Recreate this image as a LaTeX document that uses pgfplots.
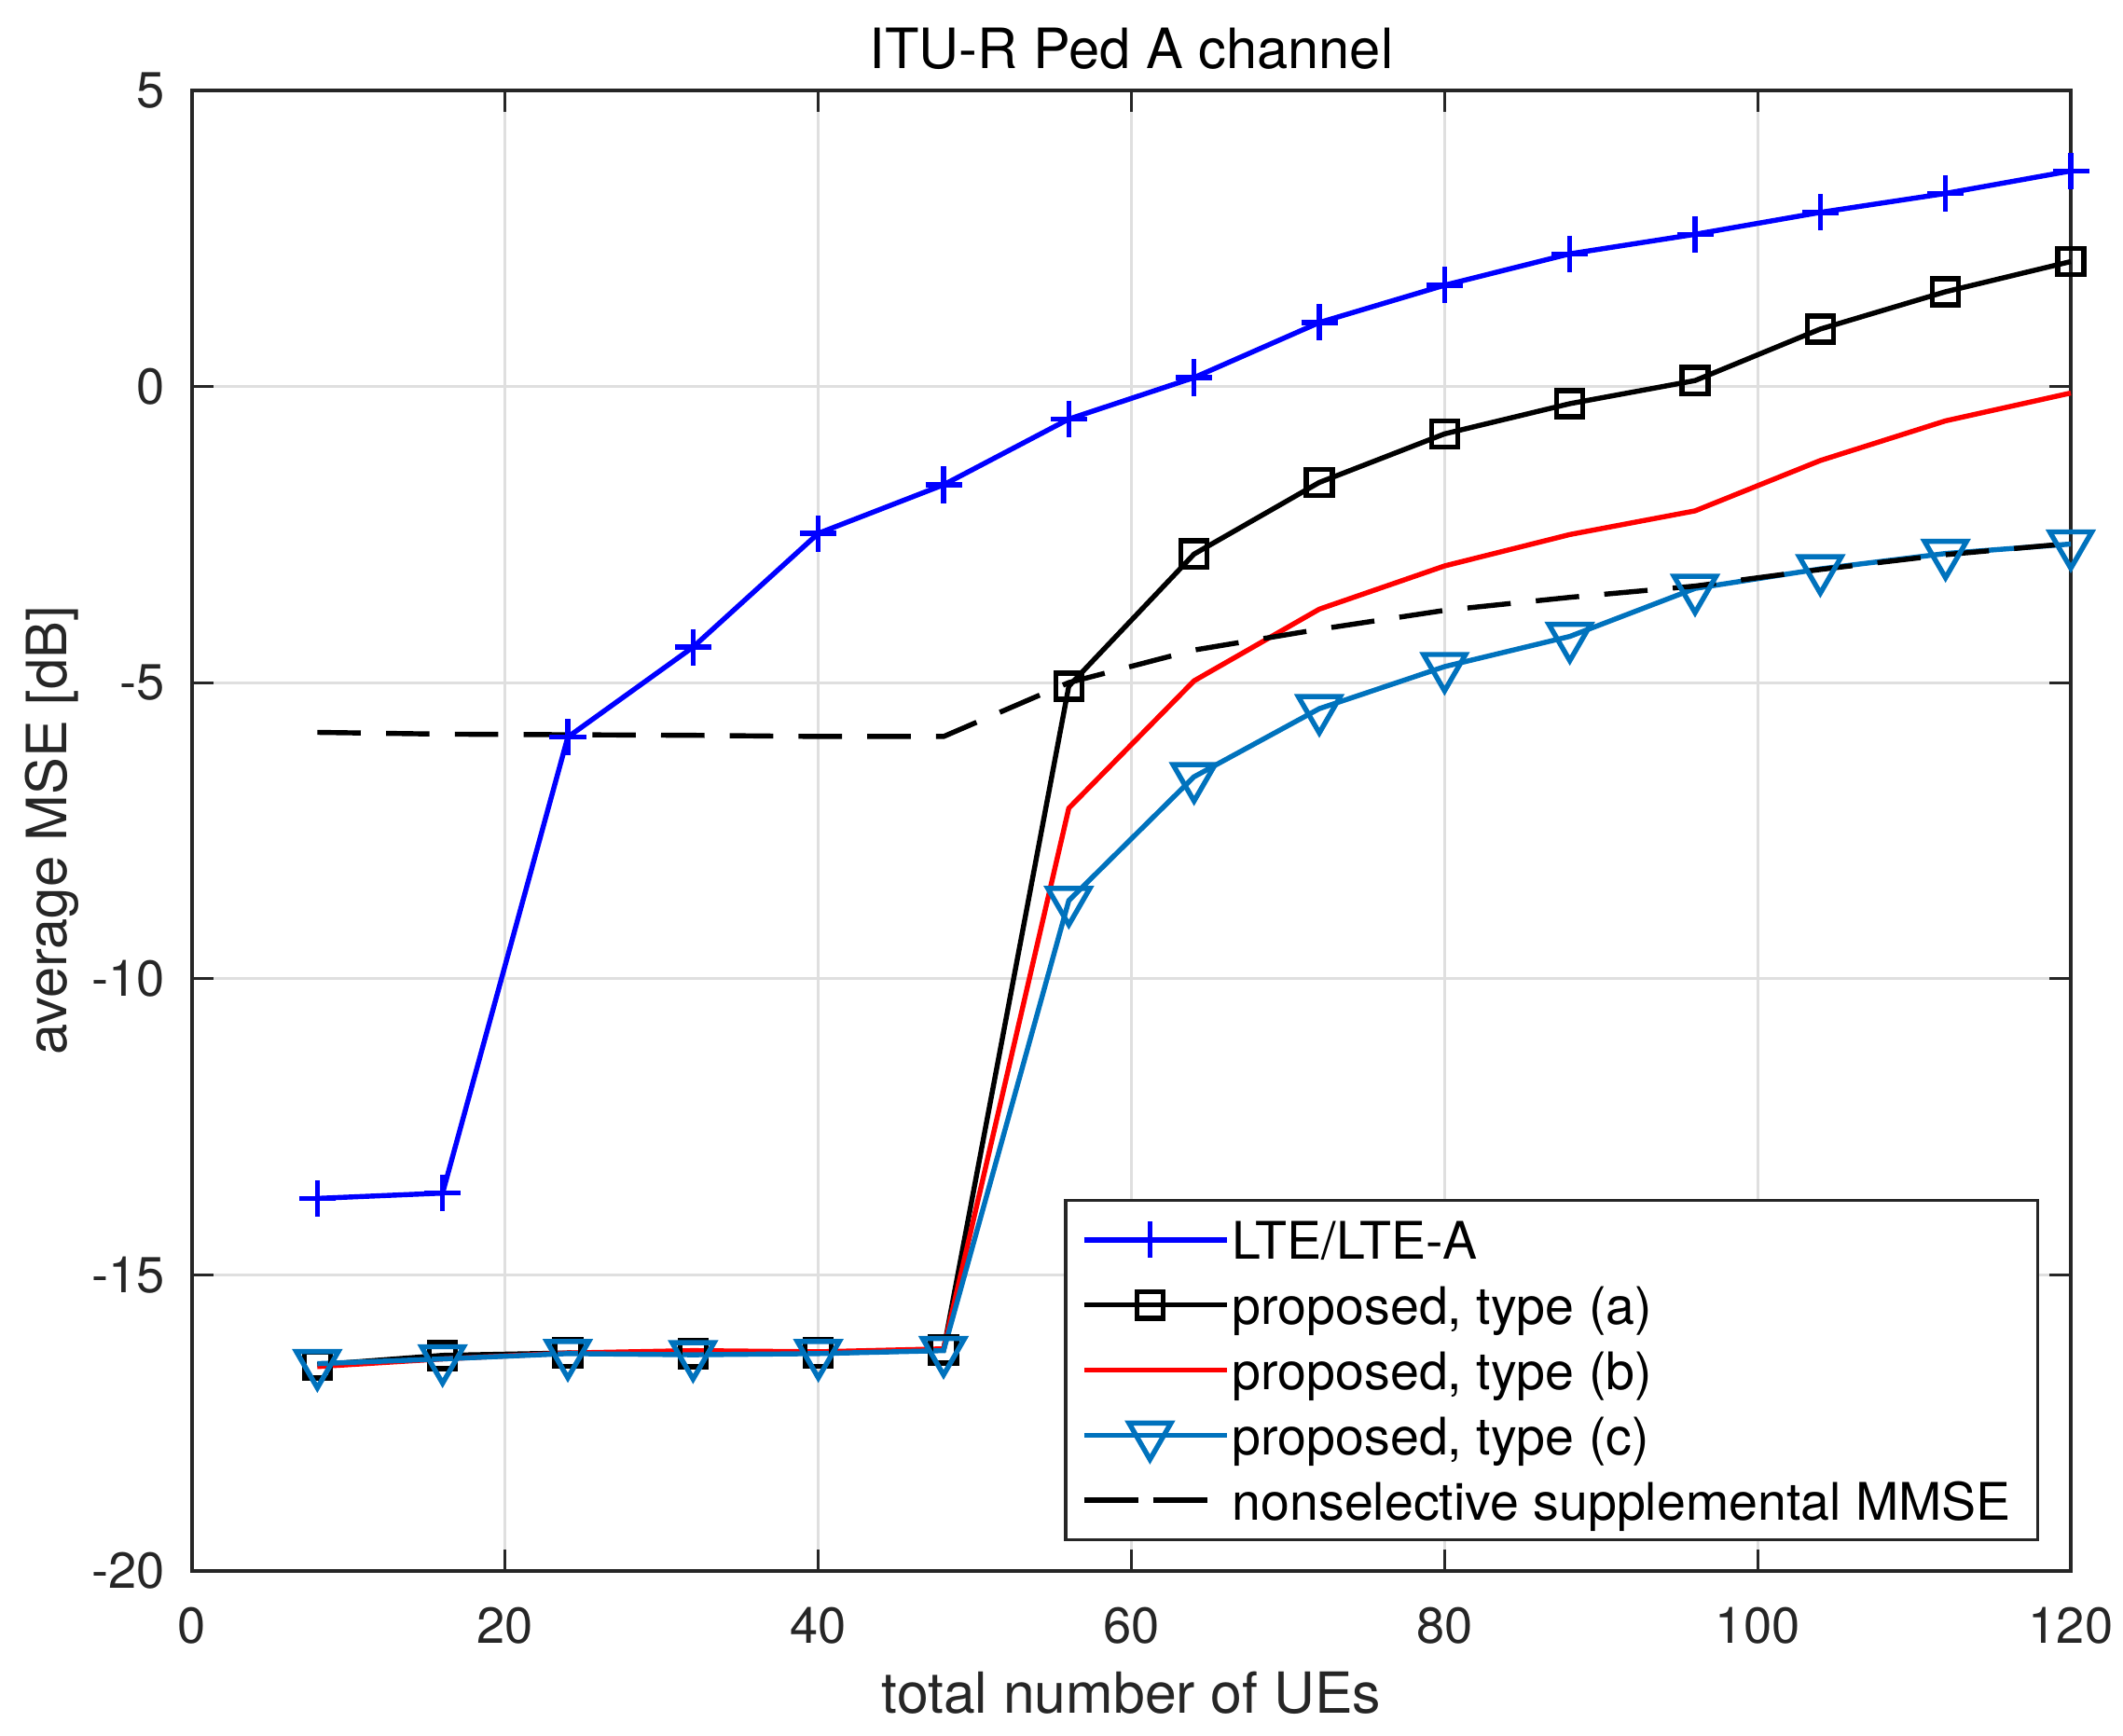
\documentclass[border=0pt]{standalone}
\usepackage{fontspec}
\setmainfont{TeX Gyre Heros}
\usepackage{pgfplots}
\pgfplotsset{compat=1.18}
\definecolor{axgray}{HTML}{262626}
\definecolor{gridgray}{HTML}{DFDFDF}
\definecolor{lteblue}{RGB}{0,0,255}
\definecolor{mblue}{RGB}{0,114,189}
\definecolor{mred}{RGB}{255,0,0}
\begin{document}
\begin{tikzpicture}
\begin{axis}[
  scale only axis,
  width=371.67pt, height=292.91pt,
  xmin=0, xmax=120, ymin=-20, ymax=5,
  xtick={0,20,...,120}, ytick={-20,-15,...,5},
  grid=major,
  major grid style={color=gridgray, line width=0.6pt},
  axis line style={color=axgray, line width=0.6pt},
  tick style={color=axgray, line width=0.6pt},
  major tick length=4.2pt,
  tick align=inside,
  tick pos=both,
  ticklabel style={font=\fontsize{10}{12}\selectfont, color=axgray},
  /pgf/number format/assume math mode=true,
  xticklabel style={yshift=-3.7pt},
  yticklabel style={xshift=-1.85pt},
  title={ITU-R Ped A channel},
  every axis title/.style={at={(axis description cs:0.5,1)}, anchor=base, yshift=4.24pt, font=\fontsize{11}{13}\selectfont, inner sep=0pt},
  xlabel={total number of UEs},
  every axis x label/.style={at={(axis description cs:0.5,0)}, anchor=base, yshift=-28.23pt, font=\fontsize{11.2}{13}\selectfont, color=axgray, inner sep=0pt},
  ylabel={average MSE [dB]},
  every axis y label/.style={at={(axis description cs:0,0.5)}, xshift=-24.8pt, rotate=90, anchor=base, font=\fontsize{11}{13}\selectfont, color=axgray, inner sep=0pt},
  clip=false,
  legend style={
    at={(axis description cs:1,0)}, xshift=-6.2pt, yshift=5.9pt, anchor=south east,
    draw=axgray, line width=0.6pt, fill=white,
    font=\fontsize{10.24}{12}\selectfont,
    inner xsep=5.35pt, inner ysep=1.4pt,
    row sep=0.13pt, column sep=0.6pt,
    nodes={inner xsep=0pt, inner ysep=0pt, text height=10.25pt, text depth=2.5pt},
    cells={anchor=west},
  },
  legend image code/.code={\path (0pt,0pt) -- (26pt,0pt);
    \draw[overlay, xshift=-2.2pt, mark repeat=2, mark phase=2] plot coordinates {(0pt,0pt) (13pt,0pt) (26pt,0pt)};},
]
\addplot[color=lteblue, line width=1pt, mark=+, mark size=3.6pt, mark options={solid}] coordinates {
(8,-13.71) (16,-13.62) (24,-5.92) (32,-4.40) (40,-2.48) (48,-1.66) (56,-0.55) (64,0.15) (72,1.08) (80,1.71) (88,2.24) (96,2.57) (104,2.94) (112,3.26) (120,3.64)};
\addlegendentry{LTE/LTE-A}
\addplot[color=black, line width=1pt, mark=square, mark size=2.6pt, mark options={solid}] coordinates {
(8,-16.52) (16,-16.36) (24,-16.32) (32,-16.33) (40,-16.32) (48,-16.27) (56,-5.06) (64,-2.83) (72,-1.62) (80,-0.80) (88,-0.29) (96,0.10) (104,0.97) (112,1.60) (120,2.11)};
\addlegendentry{proposed, type (a)}
\addplot[color=mred, line width=1pt] coordinates {
(8,-16.55) (16,-16.42) (24,-16.32) (32,-16.28) (40,-16.30) (48,-16.25) (56,-7.12) (64,-4.97) (72,-3.76) (80,-3.03) (88,-2.50) (96,-2.10) (104,-1.25) (112,-0.58) (120,-0.11)};
\addlegendentry{proposed, type (b)}
\addplot[color=mblue, line width=1pt, mark=triangle, mark size=4.8pt, mark options={solid, rotate=180}] coordinates {
(8,-16.50) (16,-16.42) (24,-16.33) (32,-16.35) (40,-16.33) (48,-16.28) (56,-8.68) (64,-6.59) (72,-5.44) (80,-4.73) (88,-4.22) (96,-3.41) (104,-3.08) (112,-2.82) (120,-2.66)};
\addlegendentry{proposed, type (c)}
\addplot[color=black, line width=1pt, dash pattern=on 8.6pt off 5pt] coordinates {
(8,-5.84) (16,-5.87) (24,-5.88) (32,-5.89) (40,-5.91) (48,-5.91) (56,-5.00) (64,-4.45) (72,-4.10) (80,-3.78) (88,-3.56) (96,-3.37) (104,-3.09) (112,-2.84) (120,-2.65)};
\addlegendentry{nonselective supplemental MMSE}
\end{axis}
\pgfresetboundingbox
\path[use as bounding box] ([xshift=-38pt,yshift=-32.65pt]current axis.south west) rectangle ([xshift=10.33pt,yshift=17.89pt]current axis.north east);
\end{tikzpicture}
\end{document}
